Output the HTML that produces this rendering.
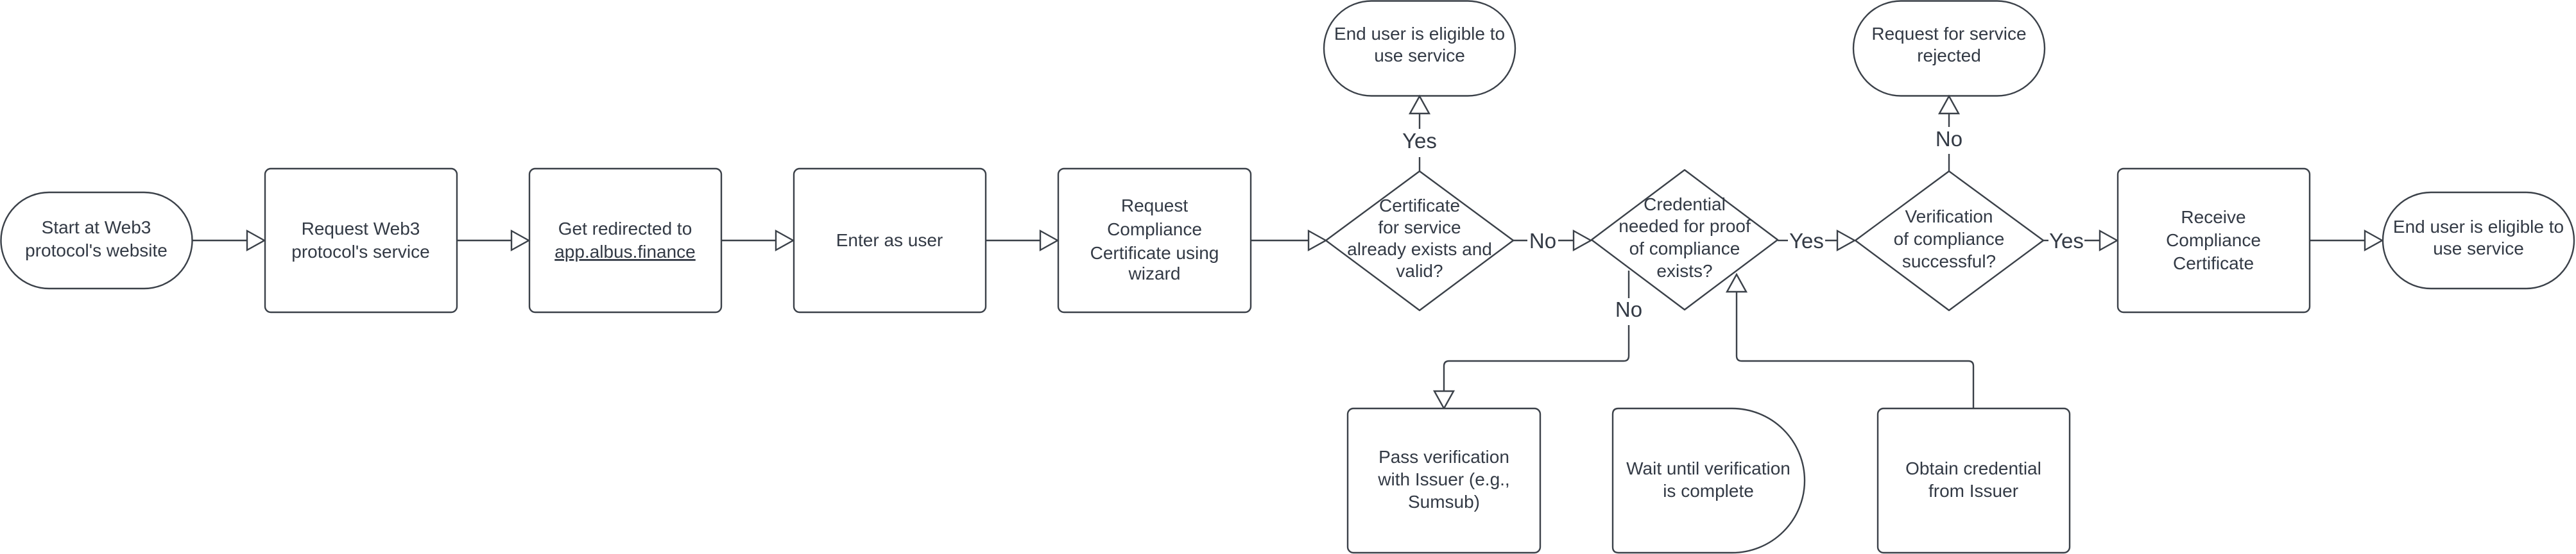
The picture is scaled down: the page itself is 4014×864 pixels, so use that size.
<!DOCTYPE html>
<html><head><meta charset="utf-8"><style>
html,body{margin:0;padding:0;background:#fff;}
svg{display:block;}
text{font-family:"Liberation Sans",sans-serif;fill:#333a45;font-size:28px;text-anchor:middle;}
.l{font-size:33px;}
.s{fill:none;stroke:#3b4149;stroke-width:2.4;}
.sh{fill:#fff;stroke:#3b4149;stroke-width:2.4;}
</style></head><body>
<svg width="4014" height="864" viewBox="0 0 4014 864" xmlns="http://www.w3.org/2000/svg">
<defs>
<g id="ah"><polygon points="0,0 -27,-15 -27,15" class="sh"/></g>
</defs>
<rect x="1.5" y="300" width="298" height="150" rx="75" ry="75" class="sh"/>
<text x="150" y="364">Start at Web3</text>
<text x="150" y="400">protocol's website</text>
<rect x="413" y="263" width="299" height="224" rx="9" class="sh"/>
<text x="562" y="366">Request Web3</text>
<text x="562" y="402">protocol's service</text>
<rect x="825" y="263" width="299" height="224" rx="9" class="sh"/>
<text x="974" y="366">Get redirected to</text>
<text x="974" y="402" text-decoration="underline">app.albus.finance</text>
<rect x="1237" y="263" width="299" height="224" rx="9" class="sh"/>
<text x="1386" y="384">Enter as user</text>
<rect x="1649" y="263" width="300" height="224" rx="9" class="sh"/>
<text x="1799" y="330">Request</text>
<text x="1799" y="367">Compliance</text>
<text x="1799" y="404">Certificate using</text>
<text x="1799" y="436">wizard</text>
<line x1="300" y1="375" x2="412" y2="375" class="s"/><use href="#ah" x="412" y="375"/>
<line x1="712" y1="375" x2="824" y2="375" class="s"/><use href="#ah" x="824" y="375"/>
<line x1="1124" y1="375" x2="1236" y2="375" class="s"/><use href="#ah" x="1236" y="375"/>
<line x1="1536" y1="375" x2="1648" y2="375" class="s"/><use href="#ah" x="1648" y="375"/>
<line x1="1949" y1="375" x2="2066" y2="375" class="s"/><use href="#ah" x="2066" y="375"/>
<path d="M2212,267 L2358,375 L2212,484 L2066,375 Z" class="sh" stroke-linejoin="round"/>
<text x="2212" y="330">Certificate</text>
<text x="2212" y="364">for service</text>
<text x="2212" y="398">already exists and</text>
<text x="2212" y="432">valid?</text>
<rect x="2063" y="1.5" width="298" height="148" rx="74" ry="74" class="sh"/>
<text x="2212" y="62">End user is eligible to</text>
<text x="2212" y="96">use service</text>
<line x1="2212" y1="267" x2="2212" y2="245" class="s"/>
<line x1="2212" y1="201" x2="2212" y2="176" class="s"/>
<g transform="translate(2212,150) rotate(-90)"><use href="#ah"/></g>
<text x="2212" y="231" class="l">Yes</text>
<line x1="2358" y1="375" x2="2380" y2="375" class="s"/>
<line x1="2428" y1="375" x2="2479" y2="375" class="s"/>
<use href="#ah" x="2479" y="375"/>
<text x="2404" y="387" class="l">No</text>
<path d="M2625,265 L2770,374 L2625,483 L2480,374 Z" class="sh" stroke-linejoin="round"/>
<text x="2625" y="328">Credential</text>
<text x="2625" y="362">needed for proof</text>
<text x="2625" y="397">of compliance</text>
<text x="2625" y="432">exists?</text>
<line x1="2770" y1="375" x2="2786" y2="375" class="s"/>
<line x1="2844" y1="375" x2="2890" y2="375" class="s"/>
<use href="#ah" x="2890" y="375"/>
<text x="2815" y="387" class="l">Yes</text>
<path d="M3037,267 L3184,375 L3037,484 L2891,375 Z" class="sh" stroke-linejoin="round"/>
<text x="3037" y="347">Verification</text>
<text x="3037" y="382">of compliance</text>
<text x="3037" y="417">successful?</text>
<rect x="2888" y="1.5" width="298" height="148" rx="74" ry="74" class="sh"/>
<text x="3037" y="62">Request for service</text>
<text x="3037" y="96">rejected</text>
<line x1="3037" y1="267" x2="3037" y2="240" class="s"/>
<line x1="3037" y1="198" x2="3037" y2="176" class="s"/>
<g transform="translate(3037,150) rotate(-90)"><use href="#ah"/></g>
<text x="3037" y="228" class="l">No</text>
<line x1="3184" y1="375" x2="3192" y2="375" class="s"/>
<line x1="3248" y1="375" x2="3299" y2="375" class="s"/>
<use href="#ah" x="3299" y="375"/>
<text x="3220" y="387" class="l">Yes</text>
<rect x="3300" y="263" width="299" height="224" rx="9" class="sh"/>
<text x="3449" y="348">Receive</text>
<text x="3449" y="384">Compliance</text>
<text x="3449" y="420">Certificate</text>
<line x1="3599" y1="375" x2="3712" y2="375" class="s"/><use href="#ah" x="3712" y="375"/>
<rect x="3713" y="300" width="298" height="150" rx="75" ry="75" class="sh"/>
<text x="3862" y="363">End user is eligible to</text>
<text x="3862" y="397">use service</text>
<path d="M2538,422 L2538,465" class="s"/>
<text x="2538" y="494" class="l">No</text>
<path d="M2538,507 L2538,555 Q2538,563 2530,563 L2258,563 Q2250,563 2250,571 L2250,610" class="s"/>
<g transform="translate(2250,637) rotate(90)"><use href="#ah"/></g>
<rect x="2100" y="637" width="300" height="225" rx="9" class="sh"/>
<text x="2250" y="722">Pass verification</text>
<text x="2250" y="757">with Issuer (e.g.,</text>
<text x="2250" y="792">Sumsub)</text>
<path d="M2522,637 L2699,637 A113,112.5 0 0 1 2699,862 L2522,862 Q2513,862 2513,853 L2513,646 Q2513,637 2522,637 Z" class="sh"/>
<text x="2662" y="740">Wait until verification</text>
<text x="2662" y="775">is complete</text>
<rect x="2926" y="637" width="299" height="225" rx="9" class="sh"/>
<text x="3075" y="740">Obtain credential</text>
<text x="3075" y="775">from Issuer</text>
<path d="M3075,637 L3075,571 Q3075,563 3067,563 L2714,563 Q2706,563 2706,555 L2706,455" class="s"/>
<g transform="translate(2706,428) rotate(-90)"><use href="#ah"/></g>
</svg>
</body></html>
